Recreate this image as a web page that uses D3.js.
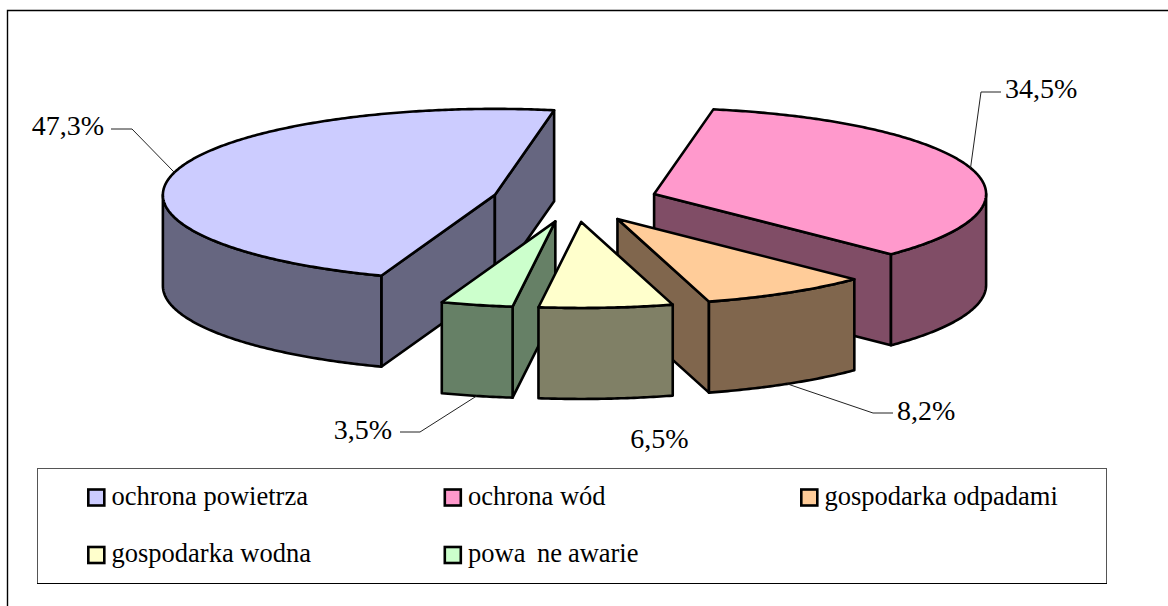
<!DOCTYPE html>
<html>
<head>
<meta charset="utf-8">
<script src="https://cdn.jsdelivr.net/npm/d3@7/dist/d3.min.js"></script>
<style>
  html, body { margin: 0; padding: 0; background: #fff; }
  svg { display: block; }
  text { font-family: "Liberation Serif", serif; fill: #000; white-space: pre; }
</style>
</head>
<body>
<svg id="chart" width="1168" height="606"></svg>
<script>
// data
var categories = ["ochrona powietrza", "ochrona wód", "gospodarka odpadami", "gospodarka wodna", "powa  ne awarie"];
var shares = [47.3, 34.5, 8.2, 6.5, 3.5];
var topColors = ["#CCCCFF", "#FF99CC", "#FFCC99", "#FFFFCC", "#CCFFCC"];
var wallColors = ["#666680", "#804D66", "#80664D", "#808066", "#668066"];

// layout: label anchor (baseline), and the bend of the leader line (null = no leader)
var labelPos = [[104, 135, "end"], [1005, 98, "start"], [897, 420, "start"], [659.5, 448, "middle"], [392, 439, "end"]];
var leaderBend = [[132, 129, 111, 129], [981, 92, 1001, 92], [873, 413, 893, 413], null, [420, 432, 400, 432]];
var legendCols = [87, 443.5, 800];
var legendRows = [497.5, 555];

// pie geometry
var pieCx = 575, pieCy = 200.5;
var radiusX = 332, radiusY = 86;
var explode = 0.25;
var depth = 91;
var startDeg = 200;

var svg = d3.select("#chart");

// frame of the chart, open to the right and at the bottom
svg.append("path")
  .attr("d", "M7.5,606V10.5H1168")
  .attr("fill", "none").attr("stroke", "#000").attr("stroke-width", 1.4);

// the unit circle is squashed into the ellipse by these two scales
var sx = d3.scaleLinear().domain([-1, 1]).range([-radiusX, radiusX]);
var sy = d3.scaleLinear().domain([-1, 1]).range([-radiusY, radiusY]);

var pie = d3.pie().sort(null)
  .startAngle(startDeg * Math.PI / 180)
  .endAngle((startDeg + 360) * Math.PI / 180);
var slices = pie(shares);

// the angle runs clockwise from the top, as in d3.arc
function rim(a, cx, cy) {
  return [cx + sx(Math.sin(a)), cy + sy(-Math.cos(a))];
}

function sampled(a0, a1) {
  var n = Math.max(2, Math.ceil(Math.abs(a1 - a0) / 0.01));
  return d3.range(n + 1).map(function(i) { return a0 + (a1 - a0) * i / n; });
}

var line = d3.line();

slices.forEach(function(s) {
  // bring the slices past the full turn back into 0..360
  if (s.startAngle >= 2 * Math.PI) {
    s.startAngle -= 2 * Math.PI;
    s.endAngle -= 2 * Math.PI;
  }
  var mid = (s.startAngle + s.endAngle) / 2;
  var off = rim(mid, 0, 0);
  s.cx = pieCx + off[0] * explode;
  s.cy = pieCy + off[1] * explode;
  s.mid = mid;
});

function drawWall(g, pts, color) {
  var down = pts.slice().reverse().map(function(p) { return [p[0], p[1] + depth]; });
  g.append("path")
    .attr("d", line(pts.concat(down)) + "Z")
    .attr("fill", color)
    .attr("stroke", "#000")
    .attr("stroke-width", 2.6)
    .attr("stroke-linejoin", "round");
}

// back to front; the yellow slice lies over green and orange
var drawOrder = [0, 1, 2, 4, 3];

drawOrder.forEach(function(i) {
  var s = slices[i];
  var g = svg.append("g").attr("class", "slice");
  var apex = [s.cx, s.cy];
  var a0 = s.startAngle, a1 = s.endAngle;

  // side walls, only those turned towards the viewer
  if (Math.sin(a0) < 0) drawWall(g, [apex, rim(a0, s.cx, s.cy)], wallColors[i]);
  if (Math.sin(a1) > 0) drawWall(g, [apex, rim(a1, s.cx, s.cy)], wallColors[i]);

  // outer wall: the front half of the ellipse
  var lo = Math.max(a0, Math.PI / 2), hi = Math.min(a1, 3 * Math.PI / 2);
  if (hi > lo) {
    var outer = sampled(lo, hi).map(function(a) { return rim(a, s.cx, s.cy); });
    drawWall(g, outer, wallColors[i]);
  }

  // top face
  var top = [apex].concat(sampled(a0, a1).map(function(a) { return rim(a, s.cx, s.cy); }));
  g.append("path")
    .attr("d", line(top) + "Z")
    .attr("fill", topColors[i])
    .attr("stroke", "#000")
    .attr("stroke-width", 2.6)
    .attr("stroke-linejoin", "round");
});

// leader lines run from the rim at the middle of the slice
slices.forEach(function(s, i) {
  if (!leaderBend[i]) return;
  var b = leaderBend[i];
  var p = rim(s.mid, s.cx, s.cy);
  // the lower slices hold the leader on the bottom of the wall
  if (Math.cos(s.mid) < -0.5) p[1] += depth;
  svg.append("path")
    .attr("d", line([p, [b[0], b[1]], [b[2], b[3]]]))
    .attr("fill", "none").attr("stroke", "#222").attr("stroke-width", 1);
});

// value labels
var fmt = d3.format(".1f");
svg.selectAll("text.value").data(shares).enter().append("text")
  .attr("class", "value")
  .attr("x", function(d, i) { return labelPos[i][0]; })
  .attr("y", function(d, i) { return labelPos[i][1]; })
  .attr("text-anchor", function(d, i) { return labelPos[i][2]; })
  .attr("font-size", 28)
  .text(function(d) { return fmt(d).replace(".", ",") + "%"; });

// legend
svg.append("rect")
  .attr("x", 37.5).attr("y", 468.5).attr("width", 1069).attr("height", 115)
  .attr("fill", "#fff").attr("stroke", "#555").attr("stroke-width", 1);
svg.append("path")
  .attr("d", "M37,583.5H1107")
  .attr("stroke", "#000").attr("stroke-width", 1);

var legend = svg.selectAll("g.legend").data(categories).enter().append("g")
  .attr("class", "legend")
  .attr("transform", function(d, i) {
    return "translate(" + legendCols[i % 3] + "," + legendRows[Math.floor(i / 3)] + ")";
  });
legend.append("rect")
  .attr("x", 1.3).attr("y", -8).attr("width", 16).attr("height", 16)
  .attr("fill", function(d, i) { return topColors[i]; })
  .attr("stroke", "#000").attr("stroke-width", 2.6);
legend.append("text")
  .attr("x", 24.5).attr("y", 7)
  .attr("font-size", 26.5)
  .style("word-spacing", function(d) { return d.indexOf("  ") >= 0 ? "-0.8px" : null; })
  .text(function(d) { return d; });
</script>
</body>
</html>
